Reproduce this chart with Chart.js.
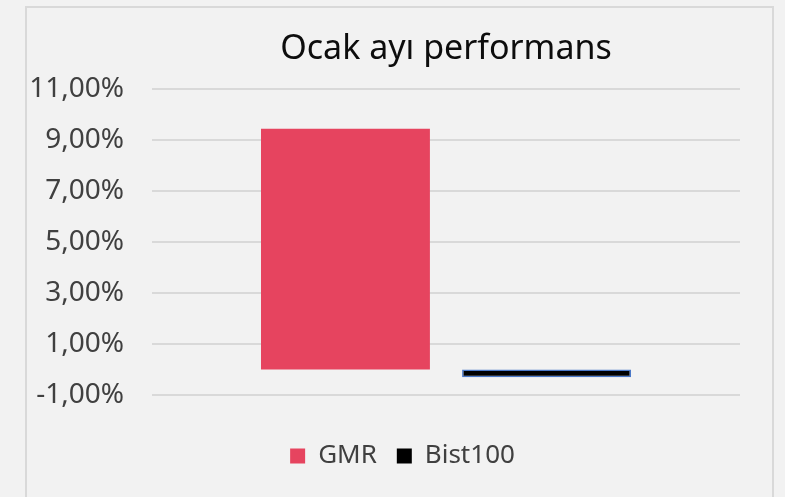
<!DOCTYPE html>
<html>
<head>
<meta charset="utf-8">
<script src="https://cdn.jsdelivr.net/npm/chart.js@4"></script>
<style>
  html, body { margin: 0; padding: 0; background: #f2f2f2; }
  #wrap { position: relative; width: 785px; height: 497px; }
  #frame { position: absolute; left: 25px; top: 6px; width: 745px; height: 489px; border: 2px solid #d9d9d9; }
  canvas { position: absolute; left: 0; top: 0; }
</style>
</head>
<body>
<div id="wrap">
  <div id="frame"></div>
  <canvas id="chart" width="785" height="497"></canvas>
</div>
<script>
// values (percent)
const categories = ['Ocak'];
const seriesNames = ['GMR', 'Bist100'];
const gmrValues = [9.43];
const bistValues = [-0.3];
const yTicks = [-1, 1, 3, 5, 7, 9, 11];

const fmt = v => v.toFixed(2).replace('.', ',') + '%';

new Chart(document.getElementById('chart').getContext('2d'), {
  type: 'bar',
  data: {
    labels: categories,
    datasets: [{
      label: seriesNames[0],
      data: gmrValues,
      backgroundColor: '#e6445f',
      borderWidth: 0
    }, {
      label: seriesNames[1],
      data: bistValues,
      backgroundColor: '#000000',
      borderColor: '#4a78c8',
      borderWidth: 1.5,
      borderSkipped: false
    }]
  },
  options: {
    responsive: false,
    animation: false,
    categoryPercentage: 0.684,
    barPercentage: 0.84,
    layout: { padding: { left: 28, right: 8, top: 10, bottom: 18 } },
    plugins: {
      title: {
        display: true,
        text: 'Ocak ayı performans',
        fullSize: false,
        color: '#0d0d0d',
        font: { family: 'Noto Sans', size: 34, weight: 'normal' },
        padding: { top: 19, bottom: 19 }
      },
      legend: {
        position: 'bottom',
        labels: {
          color: '#404040',
          font: { family: 'Noto Sans', size: 26 },
          boxWidth: 15,
          boxHeight: 15,
          padding: 20,
          generateLabels: chart => Chart.defaults.plugins.legend.labels.generateLabels(chart)
            .map(item => Object.assign(item, { lineWidth: 0 }))
        }
      },
      tooltip: { enabled: false }
    },
    scales: {
      x: {
        grid: { display: false },
        border: { display: false },
        ticks: { display: false },
        afterFit: s => { s.height = 28; }
      },
      y: {
        min: yTicks[0],
        max: yTicks[yTicks.length - 1],
        afterBuildTicks: s => { s.ticks = yTicks.map(v => ({ value: v })); },
        afterFit: s => { s.width = 124; },
        border: { display: false },
        grid: { color: '#d9d9d9', lineWidth: 2, drawTicks: false },
        ticks: {
          padding: 28,
          color: '#404040',
          font: { family: 'Noto Sans', size: 28 },
          callback: v => fmt(v)
        }
      },
      // empty right-hand axis, only keeps the plot's right edge where the reference has it
      yRight: {
        position: 'right',
        grid: { display: false },
        border: { display: false },
        ticks: { display: false },
        afterFit: s => { s.width = 37; }
      }
    }
  }
});
</script>
</body>
</html>
